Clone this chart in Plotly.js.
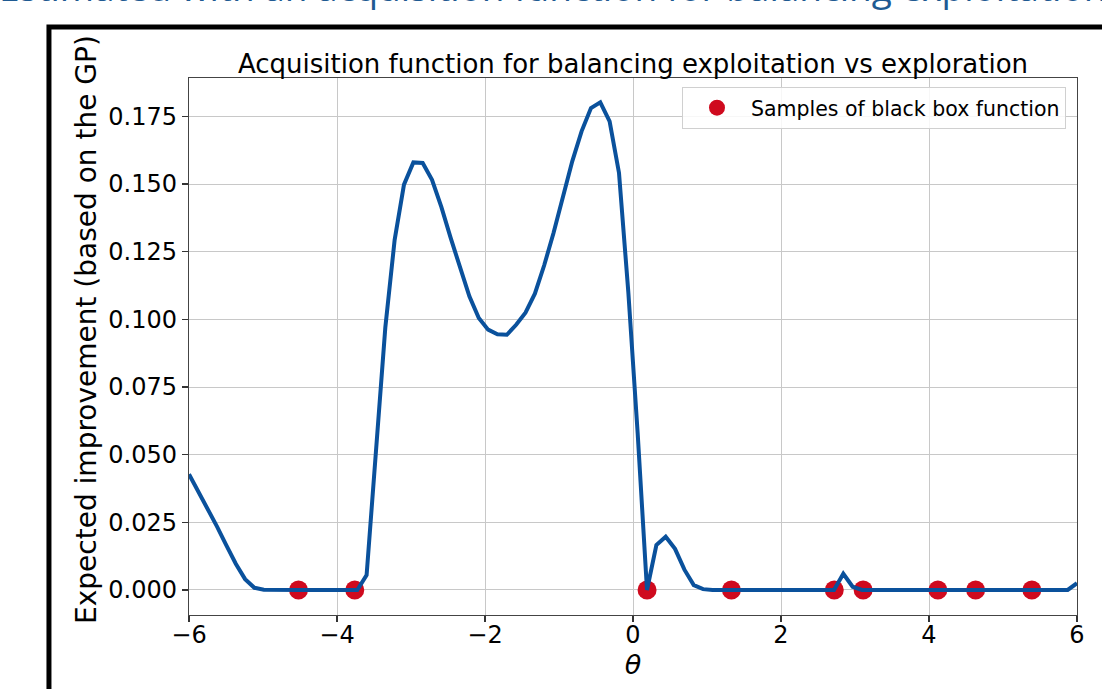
<!DOCTYPE html>
<html>
<head>
<meta charset="utf-8">
<script src="https://cdn.plot.ly/plotly-3.0.1.min.js"></script>
<style>
html,body{margin:0;padding:0;background:#fff;}
#chart{width:1102px;height:689px;}
</style>
</head>
<body>
<div id="chart"></div>
<script>
// Acquisition (expected improvement) curve
const thetaGrid = [
  -6.000, -5.874, -5.747, -5.621, -5.495, -5.368, -5.242, -5.116, -4.989, -4.863,
  -4.737, -4.611, -4.484, -4.358, -4.232, -4.105, -3.979, -3.853, -3.726, -3.600,
  -3.474, -3.347, -3.221, -3.095, -2.968, -2.842, -2.716, -2.589, -2.463, -2.337,
  -2.211, -2.084, -1.958, -1.832, -1.705, -1.579, -1.453, -1.326, -1.200, -1.074,
  -0.947, -0.821, -0.695, -0.568, -0.442, -0.316, -0.189, -0.063, 0.063, 0.189,
  0.316, 0.442, 0.568, 0.695, 0.821, 0.947, 1.074, 1.200, 1.326, 1.453,
  1.579, 1.705, 1.832, 1.958, 2.084, 2.211, 2.337, 2.463, 2.589, 2.716,
  2.842, 2.968, 3.095, 3.221, 3.347, 3.474, 3.600, 3.726, 3.853, 3.979,
  4.105, 4.232, 4.358, 4.484, 4.611, 4.737, 4.863, 4.989, 5.116, 5.242,
  5.368, 5.495, 5.621, 5.747, 5.874, 6.000
];
const expectedImprovement = [
  0.0428, 0.0366, 0.0300, 0.0234, 0.0165, 0.0097, 0.0040, 0.0008, 0.0001, 0.0000,
  0.0000, 0.0000, 0.0000, 0.0000, 0.0000, 0.0000, 0.0000, 0.0000, 0.0000, 0.0055,
  0.0500, 0.0970, 0.1294, 0.1498, 0.1580, 0.1578, 0.1516, 0.1415, 0.1300, 0.1190,
  0.1085, 0.1005, 0.0962, 0.0945, 0.0943, 0.0980, 0.1025, 0.1095, 0.1200, 0.1319,
  0.1450, 0.1584, 0.1695, 0.1781, 0.1802, 0.1732, 0.1541, 0.1100, 0.0580, 0.0000,
  0.0166, 0.0197, 0.0152, 0.0075, 0.0018, 0.0003, 0.0000, 0.0000, 0.0000, 0.0000,
  0.0000, 0.0001, 0.0002, 0.0003, 0.0003, 0.0003, 0.0002, 0.0002, 0.0001, 0.0000,
  0.0060, 0.0012, 0.0000, 0.0000, 0.0000, 0.0000, 0.0000, 0.0000, 0.0000, 0.0000,
  0.0000, 0.0000, 0.0000, 0.0000, 0.0000, 0.0000, 0.0000, 0.0000, 0.0000, 0.0000,
  0.0000, 0.0000, 0.0000, 0.0000, 0.0000, 0.0025
];
// Samples of the black box function
const sampleTheta = [-4.52, -3.76, 0.19, 1.33, 2.72, 3.11, 4.12, 4.63, 5.39];
const sampleEI = [0, 0, 0, 0, 0, 0, 0, 0, 0];
// Tick labels
const xTicks = [-6, -4, -2, 0, 2, 4, 6];
const yTicks = [0.000, 0.025, 0.050, 0.075, 0.100, 0.125, 0.150, 0.175];

const FONT = 'DejaVu Sans, sans-serif';

const traces = [
  {
    x: sampleTheta, y: sampleEI, type: 'scatter', mode: 'markers',
    name: 'Samples of black box function',
    marker: {color: '#cf0a1e', size: 19}
  },
  {
    x: thetaGrid, y: expectedImprovement, type: 'scatter', mode: 'lines',
    showlegend: false, hoverinfo: 'skip',
    line: {color: '#0a519c', width: 4}
  }
];

const layout = {
  width: 1102, height: 689,
  margin: {l: 189, r: 25, t: 78, b: 74},
  paper_bgcolor: '#ffffff', plot_bgcolor: '#ffffff',
  font: {family: FONT, color: '#000'},
  title: {
    text: 'Acquisition function for balancing exploitation vs exploration',
    font: {family: FONT, size: 26, color: '#000'},
    x: 0.5, xref: 'paper', xanchor: 'center',
    y: 0.907, yref: 'container', yanchor: 'middle'
  },
  xaxis: {
    range: [-6, 6], tickvals: xTicks, ticks: 'outside', ticklen: 6, tickwidth: 1.2,
    tickcolor: '#333', tickfont: {size: 24, family: FONT, color: '#000'},
    ticklabelstandoff: -8,
    showgrid: true, gridcolor: '#c8c8c8', gridwidth: 1,
    showline: true, mirror: true, linecolor: '#444', linewidth: 1.2,
    zeroline: false,
    title: {text: '<i>θ</i>', font: {size: 27, family: FONT, color: '#000'}, standoff: 0}
  },
  yaxis: {
    range: [-0.00925, 0.1892], tickvals: yTicks, tickformat: '.3f',
    ticks: 'outside', ticklen: 6, tickwidth: 1.2, tickcolor: '#333',
    tickfont: {size: 24, family: FONT, color: '#000'},
    showgrid: true, gridcolor: '#c8c8c8', gridwidth: 1,
    showline: true, mirror: true, linecolor: '#444', linewidth: 1.2,
    zeroline: false
  },
  legend: {
    x: 0.9876, xanchor: 'right', y: 0.9835, yanchor: 'top',
    bgcolor: 'rgba(255,255,255,0.85)', bordercolor: '#d0d0d0', borderwidth: 1,
    font: {size: 20.5, family: FONT, color: '#000'},
    itemwidth: 58
  },
  shapes: [
    {type: 'rect', xref: 'paper', yref: 'paper', x0: -0.1577, x1: 1.3, y0: -0.3, y1: 1.095,
     line: {color: '#000', width: 5}, fillcolor: 'rgba(0,0,0,0)', layer: 'above'}
  ],
  annotations: [
    {text: 'Estimated with an acquisition function for balancing exploitation and exploration',
     xref: 'paper', yref: 'paper', x: -0.2162, xanchor: 'left', y: 1.1192, yanchor: 'bottom',
     showarrow: false, font: {family: 'Open Sans, sans-serif', size: 37, color: '#1f5a92'}},
    {text: 'Expected improvement (based on the GP)', textangle: -90,
     xref: 'paper', yref: 'paper', x: -0.1149, xanchor: 'center', y: 0.5326, yanchor: 'middle',
     showarrow: false, font: {family: FONT, size: 28, color: '#000'}}
  ],
  showlegend: true
};

Plotly.newPlot('chart', traces, layout, {displayModeBar: false, staticPlot: true});
</script>
</body>
</html>
